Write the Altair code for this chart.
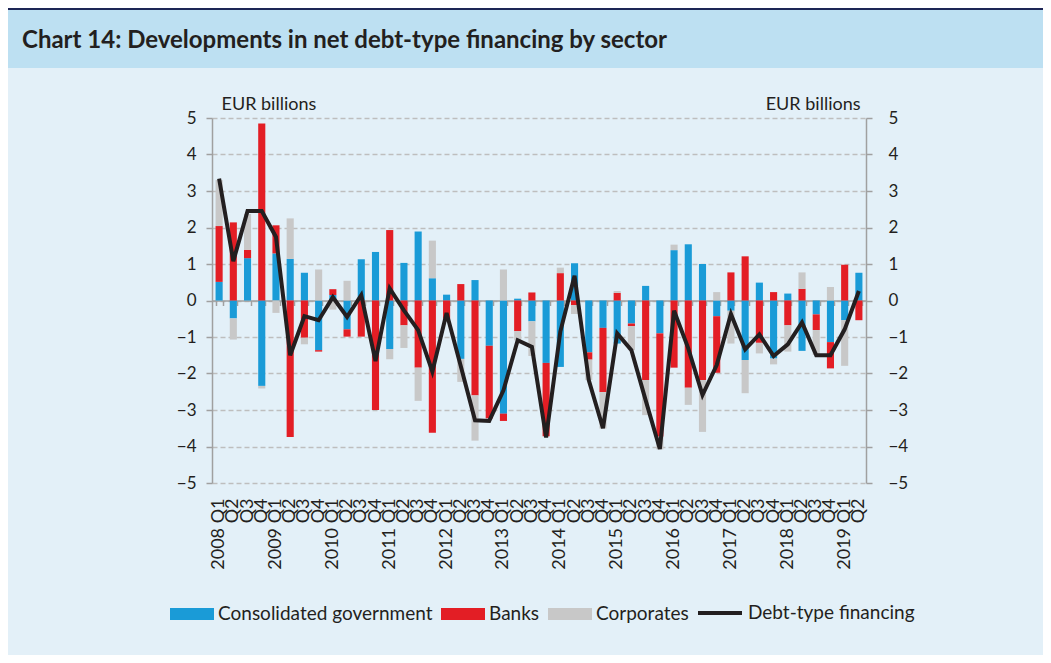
import altair as alt
import pandas as pd

years = ["2008", "2009", "2010", "2011", "2012", "2013", "2014", "2015", "2016", "2017", "2018", "2019"]
qs = ["Q1", "Q2", "Q3", "Q4"]
quarters = [f"{y} {q}" for y in years for q in qs][:46]

sectors = ["Consolidated government", "Banks", "Corporates"]
sector_colors = ["#1A9BD7", "#E31E25", "#C8C8C8"]

gov = [0.51, -0.49, 1.16, -2.34, 1.29, 1.14, 0.76, -1.36, 0.15, -0.79, 1.13, 1.33,
       -1.33, 1.03, 1.89, 0.61, 0.16, -1.60, 0.56, -1.24, -3.10, 0.05, -0.57, -1.71,
       -1.82, 1.02, -1.42, -0.75, -1.18, -0.63, 0.40, -0.90, 1.38, 1.54, 1.00, -0.43,
       -0.28, -1.63, 0.49, -1.59, 0.19, -1.38, -0.38, -1.14, -0.54, 0.76]
banks = [1.53, 2.14, 0.23, 4.85, 0.77, -3.74, -1.02, -0.04, 0.16, -0.20, -0.99, -3.00,
         1.93, -0.68, -1.84, -3.62, -0.50, 0.45, -2.60, -1.99, -0.20, -0.84, 0.22, -2.01,
         0.75, -0.13, -0.20, -1.76, 0.21, -0.07, -2.18, -2.83, -1.84, -2.39, -2.18, -1.55,
         0.77, 1.21, -1.16, 0.23, -0.68, 0.32, -0.43, -0.72, 0.98, -0.54]
corp = [1.26, -0.58, 0.98, -0.07, -0.34, 1.11, -0.18, 0.85, -0.25, 0.54, 0.00, 0.00,
        -0.28, -0.62, -0.91, 1.03, 0.00, -0.63, -1.24, 0.00, 0.85, -0.25, -0.95, 0.00,
        0.15, -0.24, -0.56, -1.00, 0.05, -0.66, -0.96, -0.35, 0.15, -0.47, -1.42, 0.23,
        -0.90, -0.91, -0.29, -0.16, -0.72, 0.45, -0.68, 0.37, -1.25, 0.00]
total = [3.34, 1.08, 2.45, 2.45, 1.74, -1.50, -0.43, -0.54, 0.09, -0.45, 0.15, -1.66,
         0.33, -0.27, -0.81, -1.95, -0.34, -1.80, -3.28, -3.30, -2.46, -1.09, -1.27, -3.75,
         -0.85, 0.68, -2.18, -3.50, -0.90, -1.36, -2.73, -4.07, -0.28, -1.31, -2.59, -1.77,
         -0.37, -1.34, -0.93, -1.52, -1.20, -0.60, -1.50, -1.50, -0.79, 0.26]

rows = []
for i, q in enumerate(quarters):
    for k, (name, vals) in enumerate(zip(sectors, [gov, banks, corp])):
        rows.append({"quarter": q, "sector": name, "value": vals[i], "ord": k})
df_bars = pd.DataFrame(rows)
df_line = pd.DataFrame({"quarter": quarters, "total": total,
                        "series": ["Debt-type financing"] * len(quarters)})

FONT = "Lato"
TXT = "#231F20"
AX = "#A0A0A0"
W, H = 654, 365
PL, PT = 204, 110
TOTW, TOTH = 1035, 647

xscale = alt.Scale(domain=quarters, paddingInner=0.5, paddingOuter=0.25)
yscale = alt.Scale(domain=[-5, 5], nice=False)

bars = alt.Chart(df_bars).mark_bar().encode(
    x=alt.X("quarter:N", scale=xscale,
            axis=alt.Axis(title=None, labelAngle=270, labelAlign="right", labelBaseline="middle",
                          labelPadding=15, domain=False, ticks=False, grid=False,
                          labelFont=FONT, labelFontSize=18, labelColor=TXT,
                          labelExpr="indexof(datum.value, 'Q1') >= 0 ? datum.value : substring(datum.value, 5)")),
    y=alt.Y("value:Q", stack="zero", scale=yscale,
            axis=alt.Axis(values=list(range(-5, 6)), title="EUR billions", titleAngle=0,
                          titleX=9, titleY=-9, titleAlign="left", titleBaseline="alphabetic",
                          titleFont=FONT, titleFontSize=18, titleFontWeight="normal", titleColor=TXT,
                          labelFont=FONT, labelFontSize=17, labelColor=TXT, labelPadding=10,
                          domainColor=AX, domainWidth=1.5, tickColor=AX, tickSize=6, tickWidth=1.5,
                          grid=True, gridColor="#BEBEBE", gridDash=[5, 3], gridWidth=1.3)),
    color=alt.Color("sector:N", scale=alt.Scale(domain=sectors, range=sector_colors),
                    legend=alt.Legend(title=None, orient="none", legendX=-42, legendY=474,
                                      direction="horizontal", padding=0,
                                      symbolType="M-1,-0.272H1V0.272H-1Z", symbolSize=1936,
                                      symbolStrokeWidth=0, symbolOpacity=1,
                                      labelFont=FONT, labelFontSize=19, labelColor=TXT,
                                      labelOffset=4, columnPadding=8, labelLimit=400)),
    order=alt.Order("ord:Q"),
)

line = alt.Chart(df_line).mark_line(strokeWidth=4).encode(
    x=alt.X("quarter:N", scale=xscale,
            axis=alt.Axis(orient="bottom", offset=-H / 2, labels=False, title=None,
                          domainColor=AX, domainWidth=1.5, tickColor=AX, tickSize=5, tickWidth=1.5,
                          tickBand="extent", grid=False)),
    y=alt.Y("total:Q", scale=yscale,
            axis=alt.Axis(orient="right", values=list(range(-5, 6)), title="EUR billions", titleAngle=0,
                          titleX=-6, titleY=-9, titleAlign="right", titleBaseline="alphabetic",
                          titleFont=FONT, titleFontSize=18, titleFontWeight="normal", titleColor=TXT,
                          labelFont=FONT, labelFontSize=17, labelColor=TXT, labelPadding=16,
                          domainColor=AX, domainWidth=1.5, tickColor=AX, tickSize=6, tickWidth=1.5,
                          grid=False)),
    stroke=alt.Stroke("series:N", scale=alt.Scale(domain=["Debt-type financing"], range=[TXT]),
                      legend=alt.Legend(title=None, orient="none", legendX=484, legendY=471,
                                        direction="horizontal", padding=0, symbolType="stroke",
                                        symbolSize=1936, symbolStrokeWidth=4,
                                        labelFont=FONT, labelFontSize=19, labelColor=TXT,
                                        labelOffset=4, labelLimit=400)),
)

one = pd.DataFrame({"a": [0]})
title_bar = alt.Chart(one).mark_rect(color="#BDE0F2").encode(
    x=alt.value(-PL), x2=alt.value(TOTW - PL), y=alt.value(-PT + 2), y2=alt.value(-50))
navy = alt.Chart(one).mark_rect(color="#1D2656").encode(
    x=alt.value(-PL), x2=alt.value(TOTW - PL), y=alt.value(-PT), y2=alt.value(-PT + 2))
title = alt.Chart(one).mark_text(align="left", baseline="alphabetic", font=FONT, fontSize=24,
                                 fontWeight="bold", color=TXT).encode(
    x=alt.value(-190), y=alt.value(-70), text=alt.value("Chart 14: Developments in net debt-type financing by sector"))

chart = alt.layer(title_bar, navy, title, bars, line).resolve_axis(
    x="independent", y="independent"
).properties(
    width=W, height=H,
    autosize=alt.AutoSizeParams(type="none"),
    padding={"left": PL, "top": PT, "right": TOTW - PL - W, "bottom": TOTH - PT - H},
).configure(background="#E3F0F8").configure_view(stroke=None)

chart.save("out.html", embed_options={"renderer": "svg", "actions": False})
